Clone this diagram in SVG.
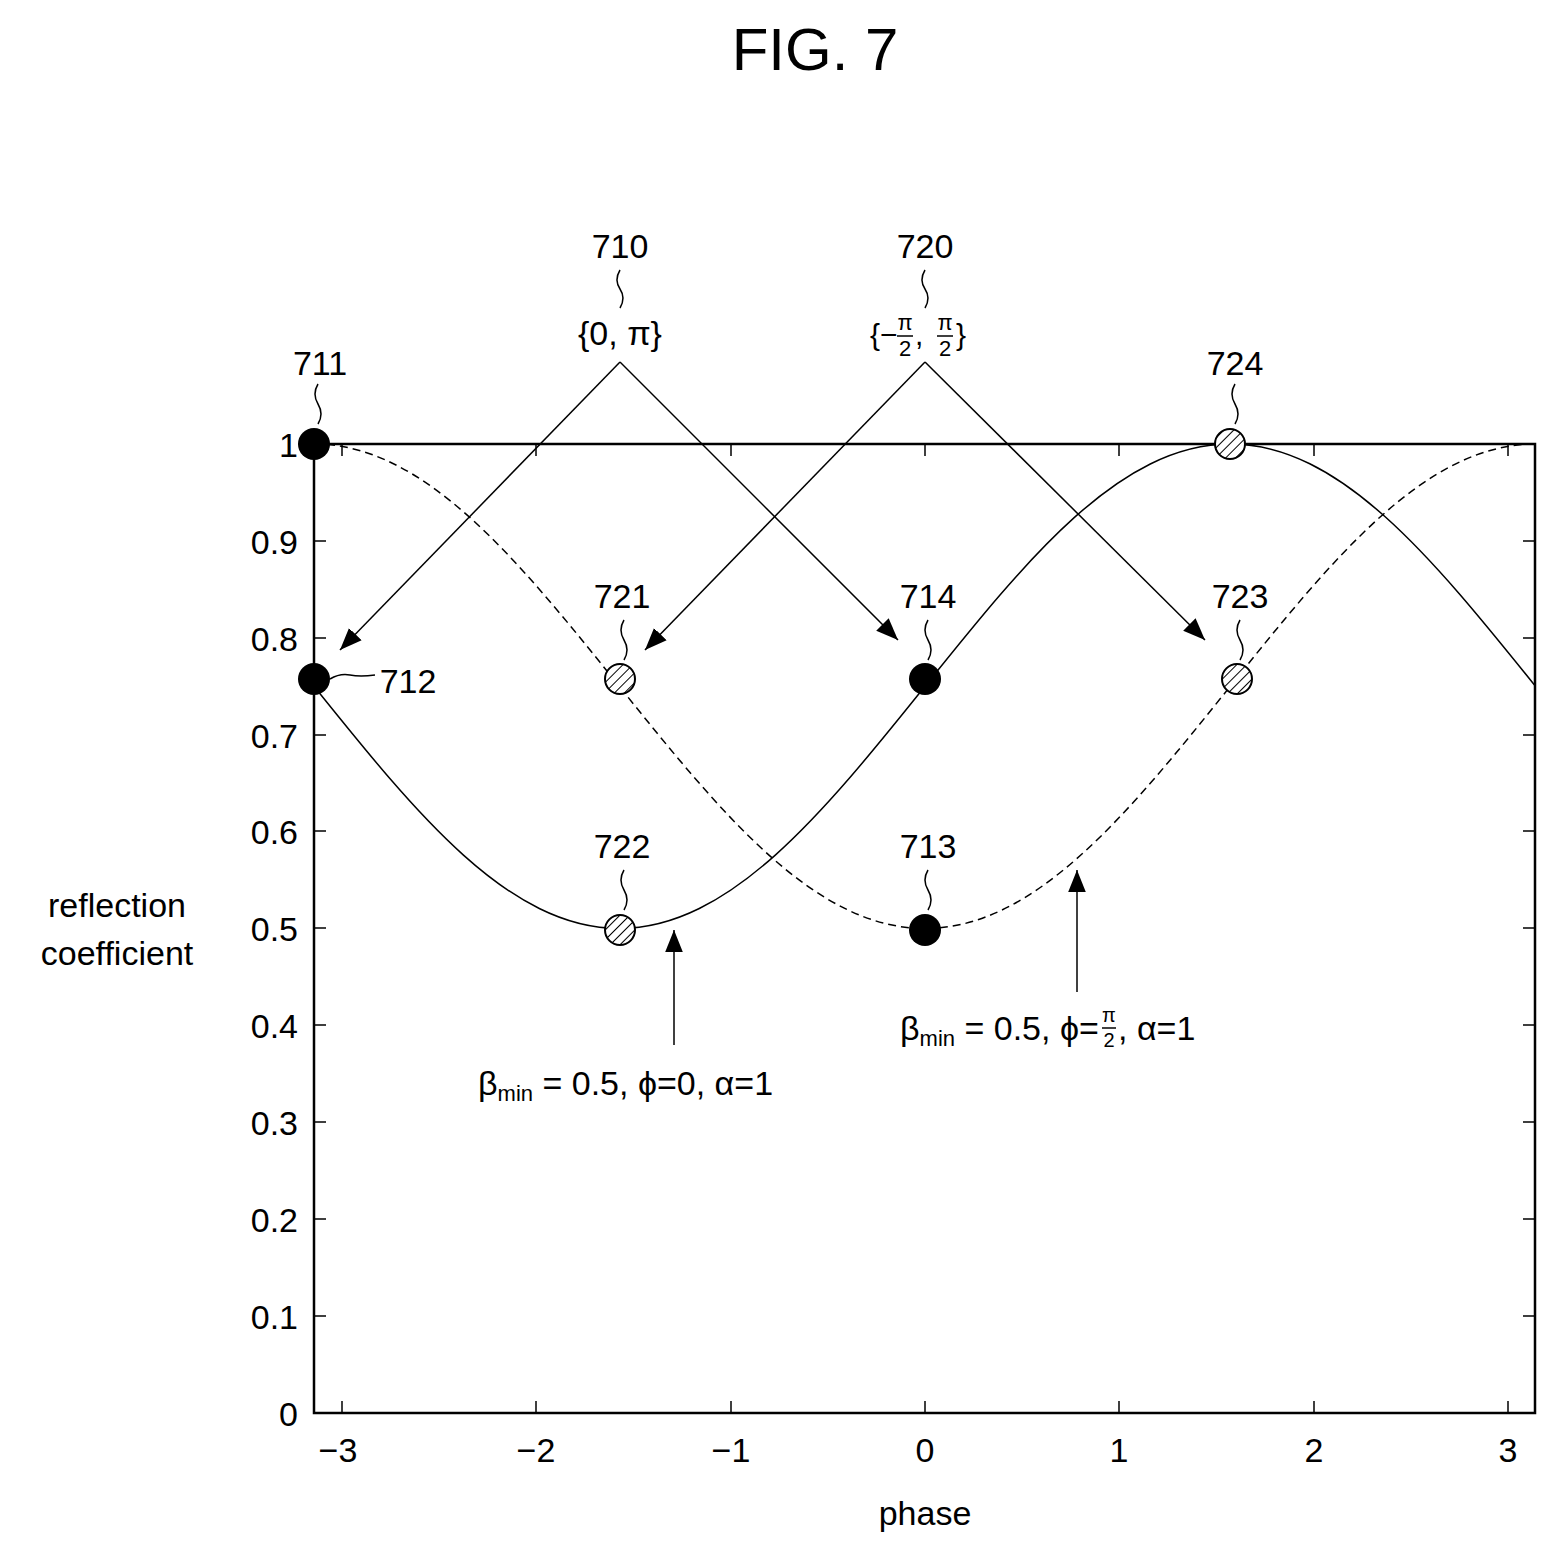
<svg xmlns="http://www.w3.org/2000/svg" width="1559" height="1553" viewBox="0 0 1559 1553">
<style>
text{font-family:"Liberation Sans",Arial,sans-serif;fill:#000}
.t{font-size:34px}
.l{font-size:34px;text-anchor:middle}
.ax{fill:none;stroke:#000;stroke-width:2.5}
.thin{fill:none;stroke:#000;stroke-width:1.5}
</style>
<defs>
<marker id="arB" viewBox="0 0 10 10" refX="10" refY="5" markerWidth="22" markerHeight="22" markerUnits="userSpaceOnUse" orient="auto"><path d="M0,1 L10,5 L0,9 z"/></marker>
<pattern id="h" patternUnits="userSpaceOnUse" width="7" height="7" patternTransform="rotate(-45)"><rect width="7" height="7" fill="#fff"/><line x1="0" y1="0" x2="7" y2="0" stroke="#000" stroke-width="2"/></pattern>
</defs>
<text x="815" y="70" font-size="60" text-anchor="middle">FIG. 7</text>
<g id="axes">
<path class="ax" d="M314,444 H1535 V1413 H314 Z"/>
<path class="thin" d="M314,1316h12M314,1219h12M314,1122h12M314,1025h12M314,928h12M314,831h12M314,735h12M314,638h12M314,541h12M1535,1316h-12M1535,1219h-12M1535,1122h-12M1535,1025h-12M1535,928h-12M1535,831h-12M1535,735h-12M1535,638h-12M1535,541h-12M342,1413v-12M536,1413v-12M731,1413v-12M925,1413v-12M1119,1413v-12M1314,1413v-12M1508,1413v-12M342,444v12M536,444v12M731,444v12M925,444v12M1119,444v12M1314,444v12M1508,444v12"/>
<g class="t" text-anchor="end">
<text x="298" y="1426">0</text><text x="298" y="1329">0.1</text><text x="298" y="1232">0.2</text><text x="298" y="1135">0.3</text><text x="298" y="1038">0.4</text><text x="298" y="941">0.5</text><text x="298" y="844">0.6</text><text x="298" y="748">0.7</text><text x="298" y="651">0.8</text><text x="298" y="554">0.9</text><text x="298" y="457">1</text>
</g>
<g class="l"><text x="338" y="1462">−3</text><text x="536" y="1462">−2</text><text x="731" y="1462">−1</text><text x="925" y="1462">0</text><text x="1119" y="1462">1</text><text x="1314" y="1462">2</text><text x="1508" y="1462">3</text>
<text x="925" y="1525">phase</text>
<text x="117" y="917">reflection</text><text x="117" y="965">coefficient</text></g>
</g>
<g id="curves">
<path class="thin" stroke-width="2" d="M314,686.25 C416.04,813.45 508.76,928.5 619.25,928.5 C729.74,928.5 822.96,813.45 925,686.25 C1027.04,559.05 1119.76,444 1230.25,444 C1340.74,444 1432.96,559.05 1535.5,686.25"/>
<path class="thin" stroke-dasharray="8,5" d="M314,444 C424.49,444 517.21,559.05 619.25,686.25 C721.29,813.45 814.51,928.5 925,928.5 C1035.49,928.5 1128.21,813.45 1230.25,686.25 C1332.29,559.05 1425.01,444 1535.5,444"/>
</g>
<g id="connectors" class="thin">
<path d="M620,362 L340,650" marker-end="url(#arB)"/>
<path d="M620,362 L898,640" marker-end="url(#arB)"/>
<path d="M925,362 L645,650" marker-end="url(#arB)"/>
<path d="M925,362 L1205,640" marker-end="url(#arB)"/>
<path d="M674,1045 V930" marker-end="url(#arB)"/>
<path d="M1077,992 V870" marker-end="url(#arB)"/>
<path d="M620,270 q-6,10 0,19 t0,19"/>
<path d="M925,270 q-6,10 0,19 t0,19"/>
<path d="M318,384 q-6,10 0,20 t0,20"/>
<path d="M1235,384 q-6,10 0,20 t0,20"/>
<path d="M624,620 q-6,10 0,20 t0,20"/>
<path d="M928,620 q-6,10 0,20 t0,20"/>
<path d="M1240,620 q-6,10 0,20 t0,20"/>
<path d="M624,870 q-6,10 0,20 t0,20"/>
<path d="M928,870 q-6,10 0,20 t0,20"/>
<path d="M330,679 q10,-6 20,-4 t25,0"/>
</g>
<g id="points">
<circle cx="314" cy="444" r="16"/><circle cx="314" cy="679" r="16"/><circle cx="925" cy="679" r="16"/><circle cx="925" cy="930" r="16"/>
<g fill="url(#h)" stroke="#000" stroke-width="2"><circle cx="620" cy="679" r="15"/><circle cx="620" cy="930" r="15"/><circle cx="1237" cy="679" r="15"/><circle cx="1230" cy="444" r="15"/></g>
</g>
<g id="labels" class="l">
<text x="620" y="258">710</text><text x="925" y="258">720</text>
<text x="620" y="345">{0, π}</text>
<text x="320" y="375">711</text><text x="1235" y="375">724</text>
<text x="622" y="608">721</text><text x="928" y="608">714</text><text x="1240" y="608">723</text>
<text x="408" y="693">712</text>
<text x="622" y="858">722</text><text x="928" y="858">713</text>
</g>
<g id="fraclabel" font-size="30">
<text x="870" y="345">{−</text>
<text x="905" y="330" font-size="22" text-anchor="middle">π</text><line x1="897" y1="336" x2="913" y2="336" stroke="#000" stroke-width="1.5"/><text x="905" y="356" font-size="22" text-anchor="middle">2</text>
<text x="915" y="345">,</text>
<text x="945" y="330" font-size="22" text-anchor="middle">π</text><line x1="937" y1="336" x2="953" y2="336" stroke="#000" stroke-width="1.5"/><text x="945" y="356" font-size="22" text-anchor="middle">2</text>
<text x="956" y="345">}</text>
</g>
<g id="formulas" font-size="34">
<text x="478" y="1095">β<tspan font-size="22" dy="6">min</tspan><tspan dy="-6"> = 0.5, ϕ=0, α=1</tspan></text>
<text x="900" y="1040">β<tspan font-size="22" dy="6">min</tspan><tspan dy="-6"> = 0.5, ϕ=</tspan></text>
<text x="1109" y="1022" font-size="20" text-anchor="middle">π</text><line x1="1102" y1="1028" x2="1116" y2="1028" stroke="#000" stroke-width="1.5"/><text x="1109" y="1047" font-size="20" text-anchor="middle">2</text>
<text x="1118" y="1040" font-size="34">, α=1</text>
</g>
</svg>
